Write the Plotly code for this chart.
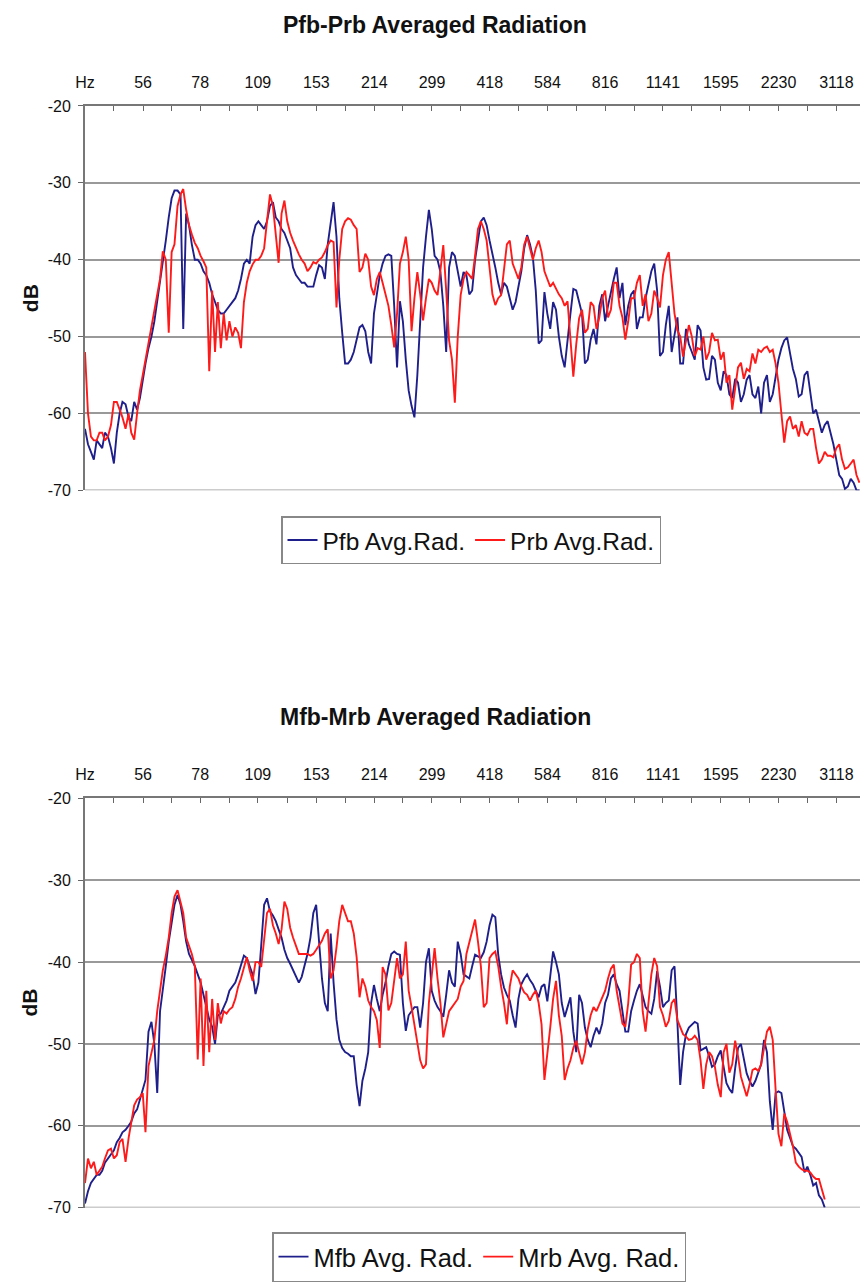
import math
import plotly.graph_objects as go

# ---------------- data ----------------
freq_hz = [
    40.0, 40.7, 41.4, 42.1, 42.8, 43.5, 44.2, 44.9, 45.7, 46.5, 47.3, 48.1, 48.9, 49.7, 50.6, 51.5, 52.3, 53.2, 54.1, 55.0,
    55.9, 56.8, 57.8, 58.8, 59.8, 60.8, 61.8, 62.8, 63.9, 65.0, 66.1, 67.2, 68.4, 69.6, 70.7, 71.9, 73.1, 74.3, 75.6, 76.9,
    78.2, 79.5, 80.8, 82.2, 83.6, 85.0, 86.4, 87.9, 89.4, 90.9, 92.4, 94.0, 95.6, 97.2, 98.8, 100.5, 102.2, 103.9, 105.7, 107.5,
    109.3, 111.1, 113.0, 114.9, 116.9, 118.9, 120.9, 122.9, 125.0, 127.1, 129.2, 131.4, 133.6, 135.9, 138.2, 140.5, 142.9, 145.3, 147.8, 150.3,
    152.8, 155.4, 158.0, 160.7, 163.4, 166.2, 169.0, 171.9, 174.7, 177.7, 180.7, 183.8, 186.8, 190.0, 193.2, 196.5, 199.8, 203.2, 206.6, 210.1,
    213.6, 217.2, 220.9, 224.6, 228.4, 232.3, 236.2, 240.2, 244.2, 248.3, 252.6, 256.9, 261.2, 265.6, 270.1, 274.7, 279.3, 284.0, 288.8, 293.7,
    298.6, 303.6, 308.8, 314.0, 319.3, 324.7, 330.2, 335.8, 341.4, 347.2, 353.1, 359.1, 365.1, 371.3, 377.5, 383.9, 390.4, 397.0, 403.7, 410.5,
    417.5, 424.5, 431.7, 439.0, 446.4, 453.9, 461.6, 469.4, 477.4, 485.5, 493.6, 501.9, 510.5, 519.1, 527.8, 536.7, 545.8, 555.0, 564.4, 573.9,
    583.6, 593.5, 603.5, 613.7, 624.0, 634.5, 645.3, 656.2, 667.3, 678.6, 690.1, 701.8, 713.6, 725.7, 737.8, 750.3, 763.0, 775.9, 789.0, 802.3,
    815.9, 829.7, 843.7, 858.0, 872.4, 887.1, 902.1, 917.3, 932.9, 948.7, 964.7, 981.0, 997.6, 1014.5, 1031.5, 1048.9, 1066.7, 1084.7, 1103.0, 1121.6,
    1141, 1160, 1180, 1200, 1220, 1241, 1261, 1282, 1304, 1326, 1349, 1372, 1395, 1419, 1442, 1466, 1491, 1516, 1542, 1568,
    1595, 1622, 1649, 1677, 1705, 1734, 1763, 1793, 1823, 1854, 1885, 1917, 1950, 1983, 2016, 2050, 2085, 2120, 2156, 2192,
    2229, 2267, 2305, 2344, 2384, 2424, 2465, 2507, 2549, 2592, 2636, 2681, 2726, 2772, 2818, 2866, 2915, 2964, 3014, 3065,
    3117, 3170, 3223, 3277, 3333, 3389, 3446, 3504, 3564]

pfb_avg_rad = [
    -62, -64, -65, -66, -63.5, -64, -64.5, -62.5, -63, -64.5, -66.5, -62.5, -60, -58.5, -58.8, -60.5, -61, -58.5, -59.5, -58,
    -55.5, -53.5, -51.5, -50, -48, -45.5, -43, -40, -37.5, -34.5, -32, -31, -31, -31.5, -49, -34, -35.5, -38, -40, -40,
    -40.5, -41.5, -42, -43, -44.5, -45.5, -46.5, -47, -47, -46.5, -46, -45.5, -45, -44, -42.5, -40.5, -40, -40.5, -37, -35.5,
    -35, -35.5, -36, -35, -33, -32.5, -34.5, -35, -36, -36.5, -37.5, -38.5, -41, -42, -42.5, -43, -43, -43.5, -43.5, -43.5,
    -42, -40.7, -41, -42.5, -38, -35, -32.5, -37, -45, -49.5, -53.5, -53.5, -53, -52, -50.5, -48.8, -48.5, -49.3, -52, -53.5,
    -47, -44.5, -42, -40.5, -39.5, -39.3, -39.5, -46, -54, -45.4, -48, -53, -57, -59, -60.5, -55, -48, -41, -37, -33.5,
    -36, -39.5, -40, -41.6, -46, -52, -41, -39, -39.5, -41.5, -43.5, -41.6, -42, -44.5, -44, -40, -37.5, -35, -34.5, -35.5,
    -37.5, -39.5, -41, -43, -44.5, -43, -43.5, -45, -46.5, -45.5, -43.5, -41.5, -38.5, -36.8, -38, -39.7, -44, -50.9, -50.5, -44.2,
    -47, -49, -45.5, -46.5, -50, -52.5, -54, -50, -47, -43.8, -44, -45.5, -47, -53.5, -53, -50.4, -49, -51, -46, -44.5,
    -48, -46, -44, -42.5, -41, -45, -43, -48.5, -46, -44.5, -44, -49, -47.5, -47.5, -45, -43, -41.5, -40.5, -44, -52.5,
    -52, -48.5, -46, -52, -50, -47.5, -53.5, -53.5, -49, -51, -52, -53, -48.5, -49.2, -54, -55.6, -55.5, -52.5, -53, -56,
    -57, -54.5, -55, -57.5, -58, -55.5, -56, -58.5, -57.5, -55.6, -55, -57.5, -58, -56.5, -60, -56, -55, -58.5, -57.5, -55,
    -53, -51.5, -50.5, -50.1, -52, -54.2, -55.5, -57.8, -57.5, -55, -54.5, -57.5, -60, -59.5, -61, -62.5, -61.5, -61, -62.5, -64,
    -66, -68, -68.5, -69.8, -69.5, -68.5, -69, -70, -70]

prb_avg_rad = [
    -52, -60, -63, -63.5, -63.5, -62.5, -62.5, -63.5, -63, -61.5, -58.5, -58.5, -59.5, -60.5, -62, -60, -62.5, -63.4, -60, -57,
    -55, -53, -51, -49, -47, -44.5, -42.5, -38.9, -40, -49.5, -39, -38, -33, -31.5, -30.8, -33.5, -35.5, -36.7, -37.8, -38.5,
    -39.5, -40.2, -41, -54.5, -44, -52, -45.5, -51.5, -47, -50.5, -48, -50, -48.8, -49.5, -51.5, -45.5, -43, -41.5, -40.6, -40,
    -40, -39.5, -38.5, -35, -31.5, -33, -37, -40.4, -34, -32.3, -35, -36.5, -37.5, -38.5, -39.3, -40, -40.5, -41.5, -41, -40.3,
    -40.5, -40, -39.7, -39, -38.1, -37.5, -37.7, -46.2, -40, -36, -35, -34.6, -34.8, -35.5, -36, -41.6, -41, -39.2, -40, -43.5,
    -44.6, -42.5, -41.6, -43, -44.5, -46, -48.5, -51.4, -47, -40.5, -39, -37, -40, -49.3, -45, -41.6, -44.5, -47.9, -45, -42.5,
    -43, -44, -44.6, -41, -38.1, -44, -50.5, -53, -58.6, -50, -44.6, -42.5, -41.6, -42, -42.5, -39.5, -36, -35, -36, -37.5,
    -41.5, -44.5, -45.9, -45, -44.6, -41, -38, -37.5, -40.5, -41.5, -42.5, -41, -38, -37, -38.5, -40, -38.5, -37.5, -39, -41.5,
    -42.5, -43.5, -43, -43.8, -44.5, -45, -46, -45.4, -50, -55.2, -51, -47.6, -46.5, -49.5, -49, -45.5, -46, -49, -47.5, -45,
    -44, -47.5, -46.5, -43, -43, -46, -47.5, -50.4, -48, -45, -45, -43, -42, -46, -44.5, -48, -47, -44, -45, -46.2,
    -42, -40, -39, -43, -47, -49.2, -50, -52.6, -50.5, -48.5, -50, -52.5, -51.5, -51.7, -50, -53, -52, -49.5, -50.5, -50.4,
    -53, -52, -56, -55, -59.5, -56.5, -54, -53.4, -55.5, -54.2, -54.5, -52.2, -53.5, -51.7, -52, -51.5, -51.3, -52, -51.7, -53.5,
    -56, -60, -63.8, -61, -60.4, -62, -61.5, -63, -61, -62.5, -62.8, -62, -62, -64.5, -66.5, -66, -65, -65.5, -65.5, -65.7,
    -64.5, -64, -66, -67.2, -67, -66.5, -66, -68, -69]

mfb_avg_rad = [
    -69.5, -68, -67, -66.5, -66, -66, -65.5, -64.5, -64, -63.5, -63, -62, -61.5, -60.8, -60.5, -60, -59.5, -58.5, -58, -56.8,
    -55.5, -54.4, -48.5, -47.3, -50, -56, -46, -43, -40.5, -37.5, -35, -33, -31.8, -33, -35, -37.5, -39, -39.7, -40.5, -41.5,
    -42.5, -44, -45.5, -47, -47.9, -50, -46.5, -46.3, -45.5, -44.7, -43.5, -43, -42.5, -41.5, -40.5, -39.2, -39.5, -40.6, -41.5, -43.9,
    -42.5, -38, -33, -32.2, -33.8, -34.3, -35, -36, -37, -38.5, -39.5, -40.2, -41, -41.7, -42.5, -41.8, -40.5, -39, -37, -34,
    -33, -37.5, -42, -45, -46, -36.5, -42.5, -47, -49.5, -50.5, -51, -51.2, -51.5, -51.5, -55, -57.6, -54.5, -53, -51, -45,
    -42.8, -44.5, -46, -44, -42.5, -40.5, -39, -38.7, -39, -39.1, -45, -48.4, -46.5, -46, -45.5, -45.5, -48, -45, -40, -38.3,
    -43.5, -44.7, -45.5, -46, -46.7, -44, -41, -42.5, -43, -37.5, -39, -41.5, -41.7, -42, -40.5, -39.1, -39.3, -39.5, -38.8, -37.5,
    -35.5, -34.2, -34.5, -39.1, -41.5, -43.1, -44, -44.7, -46.5, -48, -44.5, -42.7, -42, -41.5, -42.2, -42.7, -43.5, -44.3, -43, -42.7,
    -44.8, -42, -38.7, -40, -41.5, -45, -46.7, -45.5, -44.3, -48.5, -51, -44, -45, -48, -49.5, -50.4, -49, -48, -48.8, -47.5,
    -45, -44, -42, -41.5, -42.7, -43.5, -46, -48.5, -48.5, -46, -44.7, -43.5, -42.7, -44, -45.5, -46, -46.3, -44.5, -41.1, -43,
    -45.5, -45, -44.7, -41, -40.5, -47.5, -55, -51, -48.8, -48, -47.6, -47.3, -47.5, -50.8, -50.6, -50.4, -51.5, -52.8, -52.5, -51.5,
    -50.8, -53, -54.8, -55.5, -56, -53, -50.5, -50, -52, -53.6, -54.5, -55.2, -54.5, -53.5, -52.5, -49.5, -51, -57, -60.5, -56,
    -55.8, -56, -58, -60.5, -61.5, -62.5, -62.8, -63.3, -63.8, -65.7, -65, -66, -67.3, -67, -68.5, -69, -70, None, None, None,
    None, None, None, None, None, None, None, None, None]

mrb_avg_rad = [
    -67, -64, -65.2, -64.4, -66, -65.5, -65, -64, -63, -62.8, -64, -63.6, -62, -61.6, -64.4, -61.5, -59.5, -57.5, -56.8, -56.5,
    -56, -60.8, -52.7, -51, -49.5, -46, -43.1, -41, -39.2, -37, -34, -32, -31.2, -32.5, -34, -37, -38, -39, -40.5, -51.9,
    -42, -52.7, -43.5, -51, -44.5, -49.5, -45, -47.5, -46, -46.3, -45.8, -45.5, -44.5, -43, -42, -40.5, -39.4, -41, -42.3, -40,
    -40, -40.6, -37, -34, -33.5, -35.5, -36.5, -37.8, -36, -32.6, -33.5, -35.8, -37, -38, -39, -39, -39, -39, -39.2, -39,
    -38.5, -38, -37.4, -36.5, -36, -42, -41, -38.2, -35, -33, -34, -35, -35, -36.5, -39.4, -44.3, -42, -43, -44.7, -45.5,
    -46, -47.1, -50.5, -40.6, -41.5, -45.9, -45, -42, -39.5, -42, -41.5, -37.5, -43.5, -45.5, -47.5, -50, -52, -53, -52.5, -45,
    -41.5, -38.3, -42, -45, -49.2, -47.5, -46, -45.5, -45, -44.5, -43, -42.3, -39, -37.5, -36, -34.8, -37.5, -40.5, -45.5, -45,
    -39.5, -39, -38.7, -40.5, -43, -45, -47.6, -43, -41, -41.5, -42, -43, -43.7, -44, -44.7, -44, -43.5, -45, -47.6, -54.4,
    -51.5, -48, -44.5, -42.3, -46.5, -49, -54.4, -53, -52, -50.5, -49.6, -51, -52.5, -51, -48.2, -46.5, -45.5, -46, -45.2, -44.5,
    -43.5, -42, -40.8, -40.3, -43.5, -45.5, -47.5, -47.9, -45, -40.3, -40, -39, -39.5, -46, -48.5, -45, -41.5, -39.5, -40.5, -45.5,
    -46.5, -47.9, -47.2, -45, -44.5, -47.1, -48, -48.8, -49.1, -49.5, -49.4, -49, -49.5, -52, -55.5, -52.5, -51, -51.5, -52.8, -55,
    -56.5, -51, -50, -53.5, -52.5, -49.6, -51.5, -54, -55.2, -56.4, -55, -53.2, -53, -53.3, -52.5, -50.5, -48.5, -47.9, -49.5, -55.5,
    -61, -62.5, -58.5, -59.5, -61, -62.5, -64.5, -65, -65.3, -65.5, -65.5, -65.7, -66.2, -66.5, -66.5, -67.8, -69, None, None, None,
    None, None, None, None, None, None, None, None, None]

tick_freqs = [40, 56, 78, 109, 153, 214, 299, 418, 584, 816, 1141, 1595, 2230, 3118]
tick_labels = ["Hz", "56", "78", "109", "153", "214", "299", "418", "584",
               "816", "1141", "1595", "2230", "3118"]
half_tick_freqs = [47.3, 66.1, 92.4, 129.2, 180.7, 252.6, 353.1, 493.6, 690.1,
                   964.7, 1349, 1885, 2636]
db_ticks = [-70, -60, -50, -40, -30, -20]
db_labels = ["-70", "-60", "-50", "-40", "-30", "-20"]

# ---------------- layout helpers ----------------
W, H = 860, 1282
L = 85
PW = W - L
FONT = "Liberation Sans, Arial, sans-serif"
BLUE = "#1f1f8c"
RED = "#ff1a1a"
GRID = "#999"


def py(p):
    return 1 - p / H


def px(p):
    return (p - L) / PW


fig = go.Figure()
series = [
    ("Pfb Avg.Rad.", pfb_avg_rad, BLUE, "x", "y", "legend"),
    ("Prb Avg.Rad.", prb_avg_rad, RED, "x", "y", "legend"),
    ("Mfb Avg. Rad.", mfb_avg_rad, BLUE, "x2", "y2", "legend2"),
    ("Mrb Avg. Rad.", mrb_avg_rad, RED, "x2", "y2", "legend2"),
]
for name, vals, col, xa, ya, lg in series:
    fig.add_trace(go.Scatter(x=freq_hz, y=vals, mode="lines", name=name,
                             line=dict(color=col, width=1.9),
                             xaxis=xa, yaxis=ya, legend=lg,
                             connectgaps=False))

xr = [math.log10(40), math.log10(3576)]
tv = tick_freqs + half_tick_freqs
tt = tick_labels + [""] * len(half_tick_freqs)


def xaxis_cfg(anchor):
    return dict(type="log", range=xr, side="top", anchor=anchor, domain=[0, 1],
                tickmode="array", tickvals=tv, ticktext=tt, automargin=False,
                ticks="inside", ticklen=5, tickwidth=1.2, tickcolor="#666",
                showline=True, linecolor="#777", linewidth=2,
                showgrid=False, zeroline=False,
                tickfont=dict(family=FONT, size=16, color="#111"),
                ticklabelstandoff=10)


def yaxis_cfg(anchor, top, bottom):
    return dict(anchor=anchor, domain=[py(bottom), py(top)], range=[-70, -20],
                tickmode="array", tickvals=db_ticks, ticktext=db_labels,
                automargin=False,
                ticks="outside", ticklen=5, tickwidth=1.2, tickcolor="#666",
                showline=True, linecolor="#777", linewidth=2,
                showgrid=True, gridcolor=GRID, gridwidth=1.6,
                zeroline=False,
                tickfont=dict(family=FONT, size=16, color="#111"),
                ticklabelstandoff=4)


legend_common = dict(orientation="h", xanchor="left", yanchor="top",
                     bgcolor="white", bordercolor="#888", borderwidth=1.5,
                     itemwidth=30, traceorder="normal")

fig.update_layout(
    width=W, height=H,
    margin=dict(l=L, r=0, t=0, b=0),
    paper_bgcolor="white", plot_bgcolor="white",
    font=dict(family=FONT),
    showlegend=True,
    xaxis=xaxis_cfg("y"),
    yaxis=yaxis_cfg("x", 107, 495),
    xaxis2=xaxis_cfg("y2"),
    yaxis2=yaxis_cfg("x2", 806, 1219),
    legend=dict(x=px(281), y=py(521),
                font=dict(family=FONT, size=24.5, color="#111"), **legend_common),
    legend2=dict(x=px(272), y=py(1244),
                 font=dict(family=FONT, size=25.5, color="#111"), **legend_common),
    shapes=[
        dict(type="line", xref="x domain", yref="y", x0=0, x1=1, y0=-70, y1=-70,
             line=dict(color=GRID, width=1.6), layer="below"),
        dict(type="line", xref="x2 domain", yref="y2", x0=0, x1=1, y0=-70, y1=-70,
             line=dict(color=GRID, width=1.6), layer="below"),
    ],
    annotations=[
        dict(text="<b>Pfb-Prb Averaged Radiation</b>", xref="paper", yref="paper",
             x=px(435), y=py(25), xanchor="center", yanchor="middle",
             showarrow=False, font=dict(family=FONT, size=23, color="#111")),
        dict(text="<b>Mfb-Mrb Averaged Radiation</b>", xref="paper", yref="paper",
             x=px(435), y=py(724), xanchor="center", yanchor="middle",
             showarrow=False, font=dict(family=FONT, size=23, color="#111")),
        dict(text="<b>dB</b>", xref="paper", yref="paper",
             x=px(30), y=py(301), xanchor="center", yanchor="middle",
             textangle=-90, showarrow=False,
             font=dict(family=FONT, size=21, color="#111")),
        dict(text="<b>dB</b>", xref="paper", yref="paper",
             x=px(30), y=py(1012), xanchor="center", yanchor="middle",
             textangle=-90, showarrow=False,
             font=dict(family=FONT, size=21, color="#111")),
    ],
)

fig.write_html(
    "out.html",
    config={"displayModeBar": False},
    post_script=("document.body.style.margin='0px';"
                 "document.body.style.overflow='hidden';"
                 "document.documentElement.style.overflow='hidden';"),
)
